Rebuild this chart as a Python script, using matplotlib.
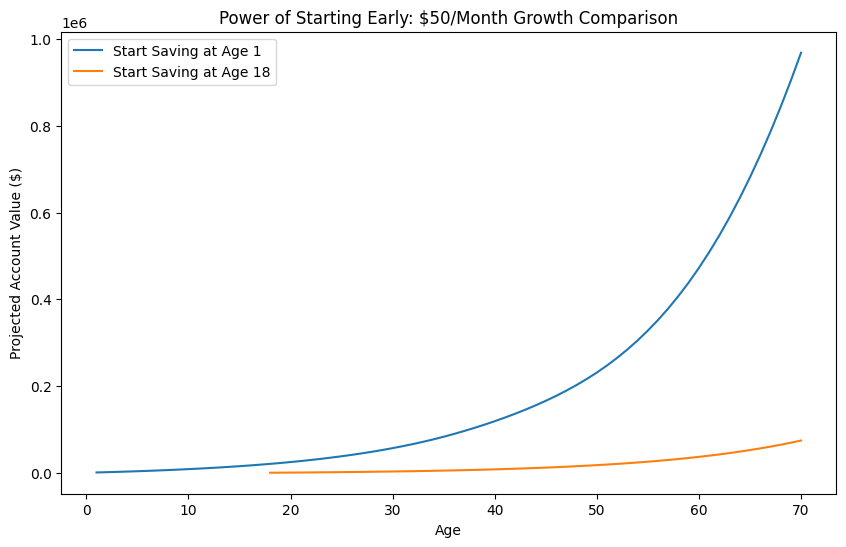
import matplotlib
matplotlib.use("Agg")
import matplotlib.pyplot as plt

ages_early = list(range(1, 71))
values_early = [
    600, 1242, 1929, 2664, 3451, 4292, 5193, 6156, 7187, 8290,
    9471, 10733, 12084, 13530, 15077, 16733, 18504, 20399, 22427, 24597,
    26919, 29403, 32061, 34906, 37949, 41206, 44691, 48418, 52408, 56677,
    61244, 66131, 71360, 76955, 82942, 89348, 96151, 103320, 110868, 118817,
    127192, 136030, 145375, 155282, 165816, 177053, 189085, 202011, 215945, 231014,
    247342, 265075, 284324, 305194, 327823, 352358, 378940, 407710, 438807, 472361,
    508501, 547352, 589030, 633645, 681296, 732079, 786091, 843422, 904182, 968481,
]

ages_late = list(range(18, 71))
values_late = [
    0, 159, 329, 510, 705, 913, 1135, 1374, 1629, 1901,
    2193, 2505, 2840, 3197, 3579, 3989, 4427, 4895, 5397, 5933,
    6507, 7122, 7779, 8482, 9235, 10040, 10901, 11823, 12809, 13865,
    14994, 16202, 17495, 18879, 20359, 21943, 23637, 25451, 27391, 29467,
    31689, 34065, 36609, 39331, 42242, 45358, 48692, 52259, 56076, 60160,
    64530, 69205, 74209,
]

label_early = "Start Saving at Age 1"
label_late = "Start Saving at Age 18"

fig, ax = plt.subplots(figsize=(10, 6), dpi=100)
ax.plot(ages_early, values_early, label=label_early)
ax.plot(ages_late, values_late, label=label_late)
ax.set_title("Power of Starting Early: $50/Month Growth Comparison")
ax.set_xlabel("Age")
ax.set_ylabel("Projected Account Value ($)")
ax.legend(loc="upper left")
fig.savefig("out.png", dpi=100, bbox_inches="tight")
